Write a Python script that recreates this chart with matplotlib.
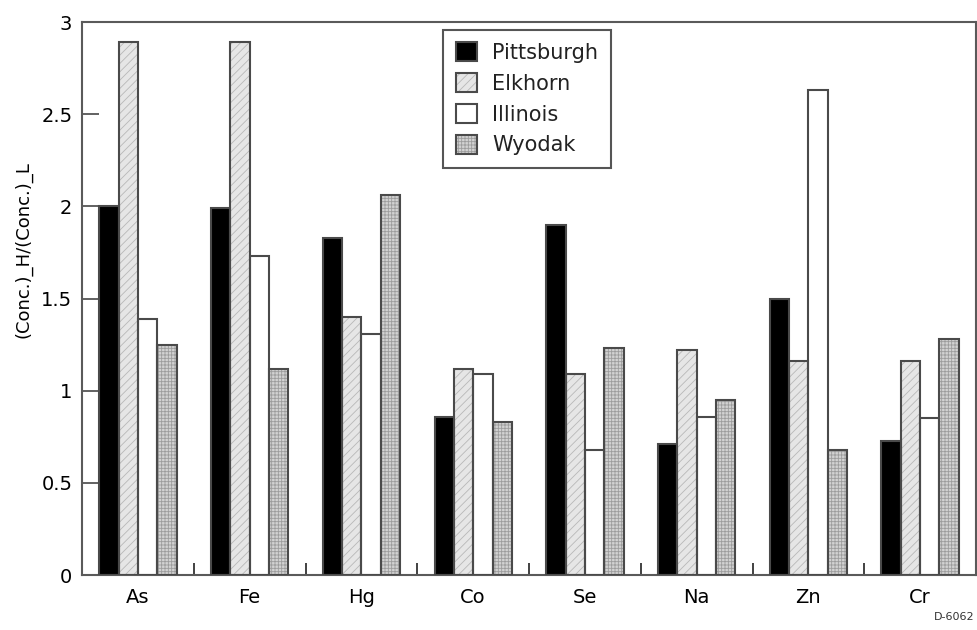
import numpy as np
import matplotlib
matplotlib.use("Agg")
import matplotlib.pyplot as plt
from matplotlib.ticker import FixedLocator

plt.rcParams['font.family'] = ['DejaVu Sans']
plt.rcParams['hatch.linewidth'] = 0.6

# 元素与煤种
elements = ['As', 'Fe', 'Hg', 'Co', 'Se', 'Na', 'Zn', 'Cr']
pittsburgh = [2.00, 1.99, 1.83, 0.86, 1.90, 0.71, 1.50, 0.73]
elkhorn = [2.89, 2.89, 1.40, 1.12, 1.09, 1.22, 1.16, 1.16]
illinois = [1.39, 1.73, 1.31, 1.09, 0.68, 0.86, 2.63, 0.85]
wyodak = [1.25, 1.12, 2.06, 0.83, 1.23, 0.95, 0.68, 1.28]
y_ticks = [0, 0.5, 1, 1.5, 2, 2.5, 3]
y_tick_labels = ['0', '0.5', '1', '1.5', '2', '2.5', '3']

# 名称, 数据, 填充色, 阴影线, 阴影线颜色
series = [
    ('Pittsburgh', pittsburgh, 'black', None, 'black'),
    ('Elkhorn', elkhorn, '#e6e6e6', '////', '#b8b8b8'),
    ('Illinois', illinois, 'white', None, 'white'),
    ('Wyodak', wyodak, '#d2d2d2', '+++++', '#9c9c9c'),
]
edge = '#4a4a4a'

fig = plt.figure(figsize=(9.77, 6.3), dpi=100)
ax = fig.add_axes([0.084, 0.087, 0.915, 0.878])

w = 0.173
x = np.arange(len(elements)) + 0.5
handles = []
for k, (name, vals, fc, hatch, hc) in enumerate(series):
    pos = x + (k - 1.5) * w
    # 先画填充和阴影线, 再单独画外框
    fill = ax.bar(pos, vals, width=w, color=fc, edgecolor=hc, hatch=hatch,
                  linewidth=0, zorder=2)
    outline = ax.bar(pos, vals, width=w, fill=False, edgecolor=edge,
                     linewidth=1.5, zorder=3)
    handles.append((fill, outline))

ax.set_xlim(0, len(elements))
ax.set_ylim(0, 3)
ax.set_xticks(x)
ax.set_xticklabels(elements, fontsize=14)
ax.tick_params(axis='x', length=0, pad=9)
ax.xaxis.set_minor_locator(FixedLocator(np.arange(1, len(elements))))
ax.tick_params(axis='x', which='minor', direction='in', length=9,
               width=1.3, color='#333333')
ax.set_yticks(y_ticks)
ax.set_yticklabels(y_tick_labels, fontsize=14)
ax.tick_params(axis='y', direction='in', length=12, width=1.3,
               color='#555555', pad=7)
for s in ax.spines.values():
    s.set_color('#5a5a5a')
    s.set_linewidth(1.5)

ax.set_ylabel('(Conc.)_H/(Conc.)_L', fontsize=13)
ax.yaxis.set_label_coords(-0.055, 0.588)

leg = ax.legend(handles, [s[0] for s in series], loc='upper left',
                bbox_to_anchor=(0.404, 0.986), borderaxespad=0,
                fontsize=15, fancybox=False, edgecolor='#555555',
                framealpha=1, handlelength=1.0, handleheight=1.0,
                labelspacing=0.5, handletextpad=0.75, borderpad=0.6)
leg.get_frame().set_linewidth(1.5)
for t in leg.get_texts():
    t.set_color('#222222')

fig.text(0.997, 0.012, 'D-6062', fontsize=8, ha='right', va='bottom',
         color='#333333')

fig.savefig('out.png', dpi=100)
